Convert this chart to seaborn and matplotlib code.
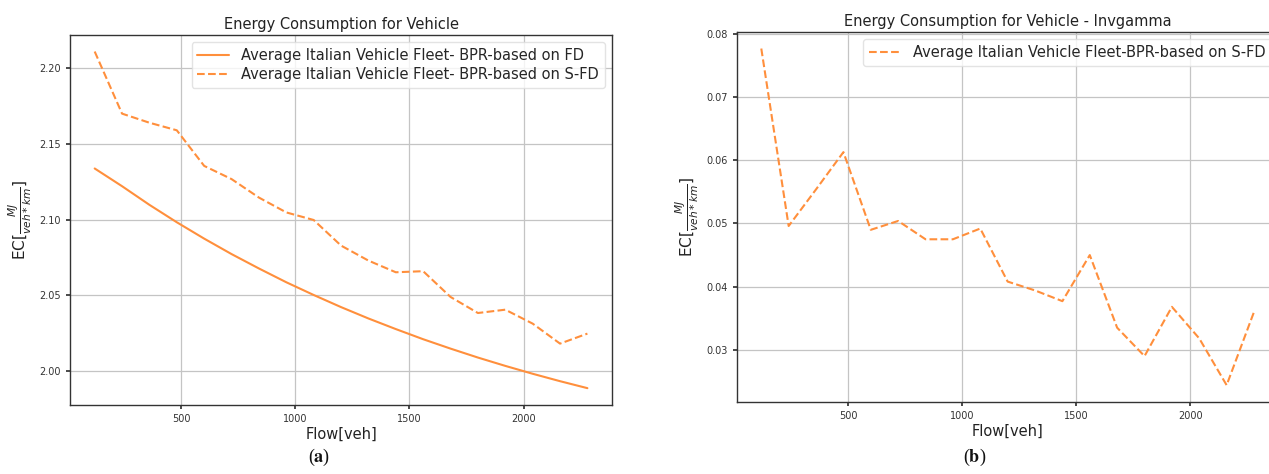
import matplotlib
matplotlib.use("Agg")
import matplotlib.pyplot as plt
import seaborn as sns
import pandas as pd

# Flow levels (veh) shared by both panels
flow = [120, 240, 360, 480, 600, 720, 840, 960, 1080, 1200,
        1320, 1440, 1560, 1680, 1800, 1920, 2040, 2160, 2280]

# Panel (a): energy consumption, BPR based on FD (solid) and on S-FD (dashed)
ec_fd = [2.1338, 2.1221, 2.1098, 2.0983, 2.0875, 2.0773, 2.0678, 2.0587,
         2.0503, 2.0423, 2.0348, 2.0278, 2.0211, 2.0149, 2.0090, 2.0035,
         1.9983, 1.9934, 1.9888]
ec_sfd = [2.2110, 2.1700, 2.1640, 2.1590, 2.1355, 2.1268, 2.1146, 2.1048,
          2.0998, 2.0829, 2.0730, 2.0653, 2.0660, 2.0490, 2.0384, 2.0406,
          2.0314, 2.0182, 2.0248]

# Panel (b): inverse-gamma case, BPR based on S-FD
ec_invgamma = [0.0777, 0.0496, 0.0554, 0.0613, 0.0490, 0.0504, 0.0475,
               0.0475, 0.0492, 0.0408, 0.0394, 0.0377, 0.0450, 0.0335,
               0.0290, 0.0368, 0.0318, 0.0244, 0.0360]

label_fd = "Average Italian Vehicle Fleet- BPR-based on FD"
label_sfd = "Average Italian Vehicle Fleet- BPR-based on S-FD"
label_inv = "Average Italian Vehicle Fleet-BPR-based on S-FD"

title_a = "Energy Consumption for Vehicle"
title_b = "Energy Consumption for Vehicle - Invgamma"
xlabel = "Flow[veh]"
ylabel = r"EC[$\frac{MJ}{veh*km}$]"

sns.set_theme(style="ticks")
plt.rcParams["font.family"] = ["DejaVu Sans"]
plt.rcParams.update({
    "axes.edgecolor": "#333333",
    "axes.linewidth": 1.0,
    "xtick.color": "#333333",
    "ytick.color": "#333333",
    "xtick.labelsize": 7,
    "ytick.labelsize": 7,
    "xtick.major.size": 3,
    "ytick.major.size": 3,
    "grid.color": "#c4c4c4",
    "grid.linewidth": 0.9,
    "mathtext.fontset": "dejavusans",
})

orange = "#ff8f3c"

df_a = pd.DataFrame({
    "flow": flow * 2,
    "ec": ec_fd + ec_sfd,
    "series": [label_fd] * len(flow) + [label_sfd] * len(flow),
})
df_b = pd.DataFrame({"flow": flow, "ec": ec_invgamma,
                     "series": [label_inv] * len(flow)})

fig = plt.figure(figsize=(12.69, 4.74), dpi=100)
ax_a = fig.add_axes([0.0552, 0.1456, 0.4271, 0.7812])
ax_b = fig.add_axes([0.5805, 0.1519, 0.4271, 0.7812])

sns.lineplot(data=df_a, x="flow", y="ec", hue="series", style="series",
             palette=[orange, orange],
             dashes={label_fd: "", label_sfd: (3.7, 1.6)},
             linewidth=1.5, ax=ax_a)
sns.lineplot(data=df_b, x="flow", y="ec", hue="series", style="series",
             palette=[orange], dashes={label_inv: (3.7, 1.6)},
             linewidth=1.5, ax=ax_b)

for ax, title in ((ax_a, title_a), (ax_b, title_b)):
    ax.set_title(title, fontsize=10.5, color="#222222", pad=4)
    ax.set_xlabel(xlabel, fontsize=10.5, color="#222222", labelpad=2)
    ax.set_ylabel(ylabel, fontsize=11, color="#222222", labelpad=4)
    ax.grid(True)
    ax.set_xticks([500, 1000, 1500, 2000])
    ax.legend(loc="upper right", fontsize=10.5, frameon=True,
              framealpha=0.8, edgecolor="#dddddd", handlelength=2.2,
              borderpad=0.4, labelspacing=0.3)

ax_a.set_yticks([2.00, 2.05, 2.10, 2.15, 2.20])
ax_a.set_yticklabels(["2.00", "2.05", "2.10", "2.15", "2.20"])
ax_b.set_yticks([0.03, 0.04, 0.05, 0.06, 0.07, 0.08])

# Panel captions
fig.text(0.2515, 0.035, r"($\mathbf{a}$)", ha="center", va="center",
         fontsize=13, family="Liberation Serif", color="#111111",
         math_fontfamily="stix")
fig.text(0.768, 0.035, r"($\mathbf{b}$)", ha="center", va="center",
         fontsize=13, family="Liberation Serif", color="#111111",
         math_fontfamily="stix")

fig.savefig("out.png", dpi=100)
